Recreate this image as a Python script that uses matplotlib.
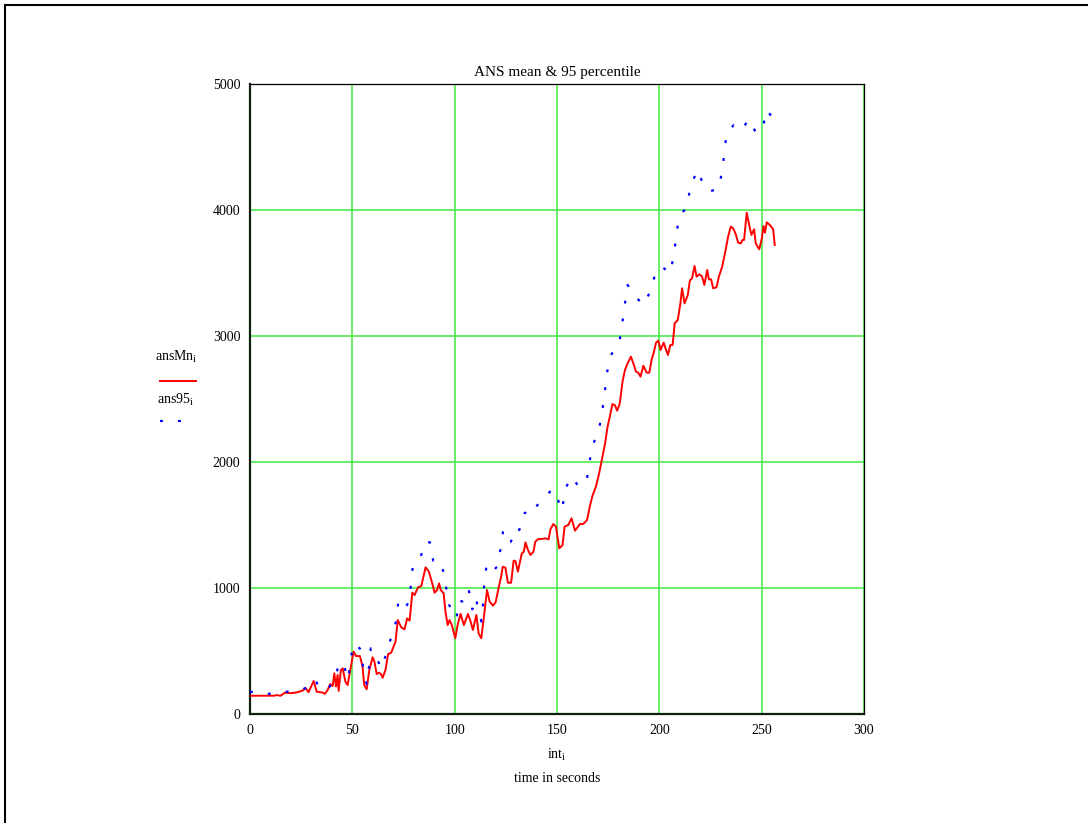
import matplotlib.pyplot as plt
from matplotlib.lines import Line2D

plt.rcParams['font.family'] = ['Liberation Serif', 'DejaVu Serif']
plt.rcParams['mathtext.fontset'] = 'custom'
plt.rcParams['mathtext.rm'] = 'Liberation Serif'
plt.rcParams['mathtext.it'] = 'Liberation Serif'

# mean ANS per interval
mn_t = [0, 11.8, 13, 15, 17, 20, 23, 25.6, 27.3, 28.6, 31.1, 32.6, 35.5, 36.6, 37.9,
        39.2, 40.4, 41.2, 42, 42.8, 43.3, 44.4, 45.3, 46.6, 47.7, 49.3, 50.6, 51.8,
        53.7, 55, 55.8, 57, 58.3, 59.9, 60.8, 61.9, 62.9, 64, 64.8, 66.2, 67.5, 69,
        71.1, 72.2, 73.9, 75.5, 76.8, 78, 79.3, 80.4, 82.1, 83.7, 85.8, 87.4, 88.6,
        90.2, 91.4, 92.4, 93.2, 94.6, 95.6, 96.6, 97.5, 98.6, 100.3, 101.6, 102.9,
        104.5, 106.5, 107.8, 108.9, 110.6, 111.7, 113, 114.3, 115.8, 117.1, 118.7,
        120, 121.6, 122.7, 123.5, 124.8, 126, 127.6, 128.8, 129.7, 130.9, 132.8,
        133.8, 134.6, 135.7, 137, 138.5, 139.4, 140.9, 142.5, 144.6, 145.9, 146.8,
        148.2, 149.5, 151.1, 152.7, 153.7, 155.5, 157.1, 158.8, 161.2, 162.8, 164.7,
        166, 167.3, 169, 170.6, 172.2, 173.5, 174.7, 175.8, 177.1, 178.3, 179.4,
        180.7, 182, 183.2, 184.5, 186.1, 187.3, 188.6, 189.7, 190.8, 192.2, 193.8,
        195.1, 196.2, 197.4, 198.4, 199.5, 200.6, 202.1, 203.3, 204.2, 205.4, 206.5,
        207.5, 209, 210.3, 211.1, 212.3, 213.9, 214.9, 216, 217.2, 218.2, 219.6,
        220.9, 222, 223.4, 224.2, 225.3, 226.3, 227.9, 229.1, 230.7, 232.4, 233.6,
        234.9, 236, 237.3, 238.5, 239.8, 240.6, 241.4, 242.7, 243.9, 245, 246.3,
        247.1, 248.8, 250.1, 250.9, 251.6, 252.5, 254, 255.6, 256.4]
mn_v = [145, 145, 150, 145, 169, 165, 172, 185, 204, 173, 262, 177, 170, 160, 190,
        238, 222, 323, 218, 310, 183, 349, 362, 256, 230, 376, 495, 460,
        460, 376, 230, 196, 349, 450, 415, 317, 328, 317, 288, 349, 476, 487,
        574, 746, 688, 672, 759, 741, 963, 944, 1005, 1016, 1164, 1130, 1063,
        963, 984, 1037, 984, 958, 800, 706, 746, 706, 601, 720, 794,
        706, 794, 733, 667, 786, 640, 601, 772, 984, 892, 860,
        886, 1011, 1090, 1169, 1161, 1042, 1042, 1217, 1214, 1130, 1275,
        1288, 1362, 1307, 1262, 1288, 1368, 1389, 1389, 1394, 1386, 1466,
        1508, 1487, 1315, 1340, 1487, 1500, 1553, 1455, 1508, 1508, 1540,
        1645, 1730, 1804, 1910, 2042, 2148, 2280, 2360, 2460, 2450, 2407,
        2466, 2637, 2730, 2783, 2836, 2783, 2717, 2709, 2677, 2764, 2709,
        2709, 2810, 2876, 2947, 2963, 2889, 2947, 2889, 2849, 2929, 2929,
        3101, 3127, 3259, 3379, 3259, 3325, 3439, 3458, 3556, 3471, 3490,
        3471, 3405, 3524, 3450, 3450, 3379, 3386, 3471, 3550, 3683, 3788,
        3868, 3855, 3810, 3741, 3735, 3762, 3762, 3979, 3881, 3802, 3847,
        3735, 3688, 3775, 3873, 3820, 3902, 3881, 3847, 3722]

# 95th percentile per interval
p95_t = [0, 8.2, 15.6, 20.5, 25.9, 28.3, 31.9, 34, 38.7, 42.3, 43.1, 44.7, 46,
         48.1, 48.9, 50.6, 54.6, 55.2, 57, 58.2, 59, 60.9, 63.9, 66.8, 68.8, 71.6,
         72.4, 75, 77.8, 78.6, 79.5, 83.2, 85.1, 87.9, 89.5, 92.8, 95.3, 96.3, 97.4,
         99.4, 100.9, 102.2, 105.4, 107, 108.6, 110.3, 111.4, 113.1, 113.9, 114.4,
         115.5, 117.6, 120.7, 122.5, 123.7, 125.8, 127.5, 129.8, 131.6, 134.3, 137.1,
         139.7, 142.5, 146.6, 150.3, 151.1, 152.7, 153.9, 157.1, 160.4, 164.4, 165.7,
         167.3, 170.4, 172, 173.2, 174.2, 175.5, 178.6, 180.7, 182, 183.2, 184.5,
         188.1, 192.2, 196.1, 198.2, 201.2, 205.4, 207, 208.3, 209.4, 214, 214.9,
         218.8, 220.9, 224.5, 229.1, 230.7, 231.9, 232.8, 236.4, 240.5, 243.5, 247.5,
         250.8, 252.3, 255.7]
p95_v = [177, 159, 169, 185, 196, 217, 275, 196, 212, 323, 381, 415, 376,
         275, 415, 558, 508, 362, 238, 381, 521, 495, 362, 482, 601, 746,
         883, 825, 892, 1024, 1164, 1228, 1363, 1363, 1217, 1217, 1086, 940, 861,
         812, 759, 905, 878, 976, 831, 926, 839, 733, 878, 1024,
         1169, 1116, 1169, 1315, 1455, 1368, 1368, 1474, 1460, 1598, 1579,
         1645, 1693, 1765, 1765, 1619, 1636, 1783, 1883, 1810, 1836, 1984,
         2127, 2249, 2392, 2532, 2677, 2823, 2910, 2974, 3114, 3259, 3405,
         3317, 3246, 3370, 3510, 3550, 3498, 3643, 3788, 3934, 4040, 4185,
         4317, 4225, 4146, 4172, 4317, 4463, 4608, 4675, 4635, 4720, 4608,
         4667, 4794, 4727]

x_ticks = [0, 50, 100, 150, 200, 250, 300]
y_ticks = [0, 1000, 2000, 3000, 4000, 5000]

dots = (0, (1.3, 6.8))

fig = plt.figure(figsize=(10.88, 8.23), dpi=100)
ax = fig.add_axes([250 / 1088, 109 / 823, 614 / 1088, 630 / 823])

ax.plot(mn_t, mn_v, color='#ff0000', lw=1.4, zorder=3)
ax.plot(p95_t, p95_v, color='#0000ff', lw=1.6, linestyle=dots, zorder=3)

ax.set_xlim(0, 300)
ax.set_ylim(0, 5000)
ax.set_xticks(x_ticks)
ax.set_yticks(y_ticks)
ax.grid(True, color='#40ea40', lw=1.1, zorder=1)
ax.tick_params(length=0, labelsize=10, pad=7)
for side in ['top', 'right']:
    ax.spines[side].set_linewidth(0.9)
for side in ['left', 'bottom']:
    ax.spines[side].set_linewidth(1.6)
    ax.spines[side].set_color('#102010')

ax.set_title('ANS mean & 95 percentile', fontsize=11, pad=6)
fig.text(557 / 1088, 1 - 755 / 823, r'int$_{\mathrm{i}}$', ha='center', va='center', fontsize=10)
fig.text(557 / 1088, 1 - 778 / 823, 'time in seconds', ha='center', va='center', fontsize=10)

# legend on the left side
fig.text(176 / 1088, 1 - 357 / 823, r'ansMn$_{\mathrm{i}}$', ha='center', va='center', fontsize=10)
fig.add_artist(Line2D([160 / 1088, 196 / 1088], [1 - 381 / 823, 1 - 381 / 823],
                      color='#ff0000', lw=1.4))
fig.text(176 / 1088, 1 - 400 / 823, r'ans95$_{\mathrm{i}}$', ha='center', va='center', fontsize=10)
fig.add_artist(Line2D([160 / 1088, 183 / 1088], [1 - 421 / 823, 1 - 421 / 823],
                      color='#0000ff', lw=1.6, linestyle=dots))

# outer frame (top and left edges)
fig.add_artist(Line2D([5 / 1088, 1.0], [1 - 5 / 823, 1 - 5 / 823], color='black', lw=1.5))
fig.add_artist(Line2D([5 / 1088, 5 / 1088], [0.0, 1 - 5 / 823], color='black', lw=1.5))

fig.savefig('out.png', dpi=100)
